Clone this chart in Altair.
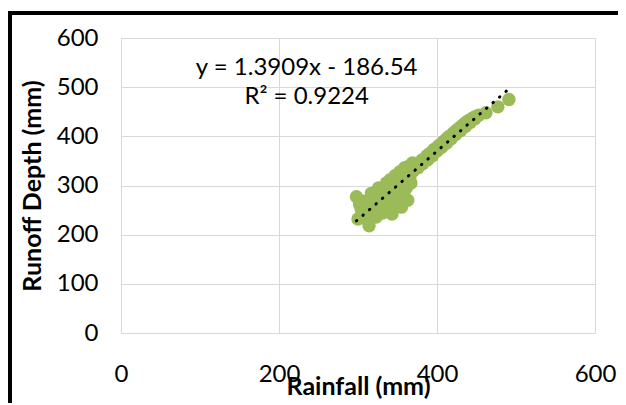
import altair as alt
import pandas as pd

# Rainfall (mm) and runoff depth (mm)
rain = [298, 300, 304, 307, 311, 314, 317, 319, 322, 323, 326, 328, 331, 333, 336,
        338, 341, 343, 345, 347, 349, 351, 353, 355, 357, 359, 361, 363, 365, 367, 369,
        302, 305, 309, 312, 315, 320, 324, 327, 330, 334, 337, 340, 344, 346, 350,
        352, 356, 358, 362, 366, 370,
        372, 375, 378, 381, 384, 387, 390, 393, 396, 399, 402, 405, 408, 411, 414,
        417, 420, 423, 426, 429, 432, 435, 438, 441, 444, 447, 450, 453,
        376, 382, 388, 394, 400, 406, 412, 418, 424, 430, 436, 442, 448,
        462, 477, 491]
runoff = [277, 232, 252, 268, 242, 218, 284, 258, 272, 236, 295, 262, 244, 280, 305,
          268, 312, 242, 290, 320, 262, 300, 328, 256, 312, 336, 295, 270, 340, 305, 346,
          262, 240, 256, 230, 272, 246, 282, 250, 290, 256, 292, 276, 304, 270, 314,
          285, 322, 280, 330, 320, 330,
          336, 344, 345, 352, 354, 360, 364, 367, 373, 376, 381, 384, 389, 393, 398,
          401, 406, 410, 414, 418, 422, 426, 430, 433, 436, 439, 441, 443,
          336, 344, 352, 360, 370, 378, 386, 395, 404, 412, 420, 428, 436,
          448, 460, 475]

# Linear trend reported on the chart
slope = 1.3909
intercept = -186.54
eq_lines = ["y = 1.3909x - 186.54", "R² = 0.9224"]
eq_x = [235, 235]
eq_y = [524, 466]

x_ticks = [0, 200, 400, 600]
y_ticks = [0, 100, 200, 300, 400, 500, 600]

pts = pd.DataFrame({"rain": rain, "runoff": runoff})
xmin, xmax = min(rain), max(rain)
trend = pd.DataFrame({"rain": [xmin, xmax],
                      "runoff": [slope * xmin + intercept, slope * xmax + intercept]})
eq = pd.DataFrame({"t": eq_lines, "x": eq_x, "y": eq_y})

FONT = "Lato"

xs = alt.Scale(domain=[0, 600], nice=False)
ys = alt.Scale(domain=[0, 600], nice=False)

xaxis = alt.Axis(values=x_ticks, title="Rainfall (mm)", grid=True, gridColor="#D9D9D9",
                 domain=False, ticks=False, labelPadding=29, labelFontSize=24,
                 labelFont=FONT, labelColor="#000000", titleFont=FONT, titleFontSize=25,
                 titleFontWeight="bold", titleColor="#000000", titleBaseline="alphabetic",
                 titleY=61, labelFlush=False)
yaxis = alt.Axis(values=y_ticks, title="Runoff Depth (mm)", grid=True, gridColor="#D9D9D9",
                 domain=False, ticks=False, labelPadding=23, labelFontSize=24,
                 labelFont=FONT, labelColor="#000000", titleFont=FONT, titleFontSize=25,
                 titleFontWeight="bold", titleColor="#000000", titleBaseline="alphabetic",
                 titleX=-81, titleY=147.5, titleAlign="center", labelFlush=False)

points = alt.Chart(pts).mark_circle(size=180, color="#9BBB59", opacity=1).encode(
    x=alt.X("rain:Q", scale=xs, axis=xaxis),
    y=alt.Y("runoff:Q", scale=ys, axis=yaxis),
)

line = alt.Chart(trend).mark_line(color="#000000", strokeWidth=3, strokeDash=[0.5, 8.1],
                                  strokeCap="round").encode(
    x=alt.X("rain:Q", scale=xs), y=alt.Y("runoff:Q", scale=ys))

text = alt.Chart(eq).mark_text(font=FONT, fontSize=24, color="#000000", align="center",
                               baseline="alphabetic").encode(
    x=alt.X("x:Q", scale=xs), y=alt.Y("y:Q", scale=ys), text="t:N")

frame_top = alt.Chart(pts).mark_rule(color="#000000", strokeWidth=4, clip=False).encode(
    x=alt.value(-113), x2=alt.value(500), y=alt.value(-25))
frame_left = alt.Chart(pts).mark_rule(color="#000000", strokeWidth=4, clip=False).encode(
    x=alt.value(-111), y=alt.value(-27), y2=alt.value(375))

chart = alt.layer(points, line, text, frame_top, frame_left).properties(
    width=474, height=295, autosize="none",
    padding={"left": 113, "top": 30, "right": 23, "bottom": 70},
    background="#FFFFFF",
).configure_view(stroke="#D9D9D9", strokeWidth=1)

chart.save("out.html", embed_options={"renderer": "svg", "actions": False})
